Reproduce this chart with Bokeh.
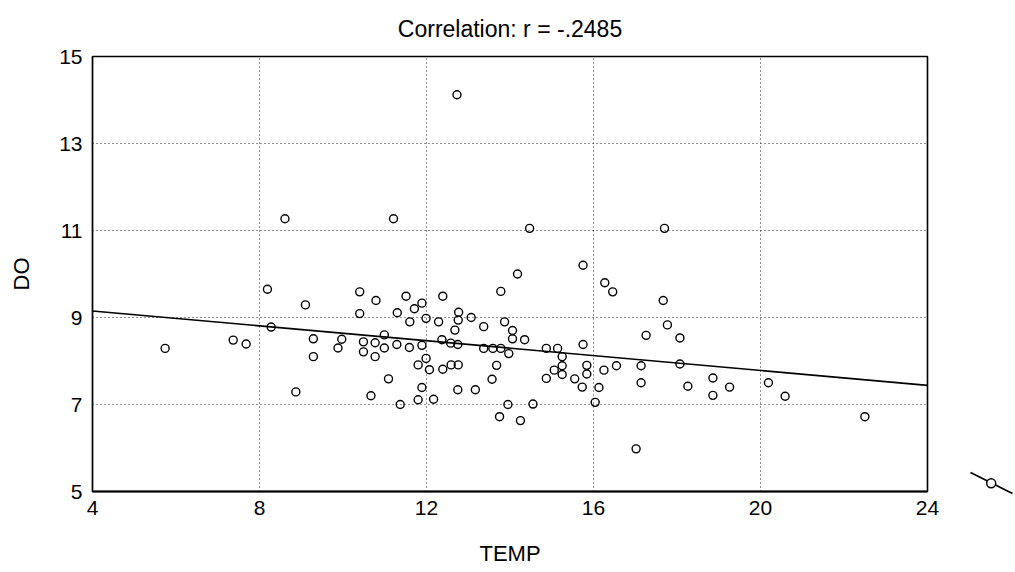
from bokeh.plotting import figure
from bokeh.layouts import row
from bokeh.models import FixedTicker, ColumnDataSource
from bokeh.embed import file_html
from bokeh.resources import INLINE

# ---- data ----
temp = [5.74, 7.37, 7.68, 8.19, 8.28, 8.87, 9.10, 9.29, 9.29, 9.88,
        9.97, 10.40, 10.40, 10.49, 10.49, 10.67, 10.77, 10.77, 10.79, 10.99,
        10.99, 11.09, 11.29, 11.30, 11.37, 11.51, 11.59, 11.60, 11.71, 11.80,
        11.80, 11.89, 11.89, 11.89, 11.99, 11.99, 12.07, 12.17, 12.29, 12.37,
        12.39, 12.39, 12.58, 12.59, 12.68, 12.73, 12.75, 12.76, 12.75, 12.76,
        12.77, 13.07, 13.17, 13.37, 13.37, 13.57, 13.59, 13.68, 13.75, 13.78,
        13.78, 13.87, 13.95, 13.97, 14.06, 14.06, 14.18, 14.25, 14.35, 14.47,
        14.55, 14.87, 14.87, 15.06, 15.14, 15.25, 15.25, 15.25, 15.55, 15.73,
        15.75, 15.75, 15.84, 15.84, 16.04, 16.13, 16.25, 16.27, 16.46, 16.55,
        17.02, 17.14, 17.14, 17.26, 17.67, 17.70, 17.77, 18.07, 18.07, 18.26,
        18.86, 18.86, 19.26, 20.19, 20.59, 22.50, 8.61, 11.21]
do = [8.29, 8.48, 8.39, 9.65, 8.78, 7.29, 9.29, 8.51, 8.10, 8.30,
      8.50, 9.59, 9.09, 8.44, 8.21, 7.20, 8.42, 8.10, 9.39, 8.60,
      8.30, 7.59, 8.38, 9.11, 7.00, 9.49, 8.31, 8.90, 9.20, 7.91,
      7.11, 9.33, 8.36, 7.39, 8.98, 8.06, 7.80, 7.12, 8.90, 8.49,
      9.49, 7.81, 8.41, 7.91, 8.71, 14.12, 8.38, 7.91, 7.34, 8.94,
      9.12, 9.00, 7.34, 8.79, 8.29, 7.58, 8.29, 7.90, 6.72, 9.60,
      8.29, 8.90, 7.00, 8.17, 8.70, 8.51, 10.00, 6.63, 8.49, 11.05,
      7.01, 8.29, 7.60, 7.79, 8.29, 8.10, 7.89, 7.69, 7.59, 7.40,
      10.20, 8.38, 7.90, 7.70, 7.05, 7.39, 7.79, 9.80, 9.59, 7.89,
      5.98, 7.89, 7.50, 8.59, 9.39, 11.05, 8.83, 8.53, 7.93, 7.42,
      7.61, 7.21, 7.40, 7.50, 7.19, 6.72, 11.27, 11.27]
fit_x = [4, 24]
fit_y = [9.15, 7.44]
x_ticks = [4, 8, 12, 16, 20, 24]
y_ticks = [5, 7, 9, 11, 13, 15]
title_text = "Correlation: r = -.2485"
x_title = "TEMP"
y_title = "DO"

FONT = "Liberation Sans"

src = ColumnDataSource(data=dict(temp=temp, do=do))
fit = ColumnDataSource(data=dict(x=fit_x, y=fit_y))

TOP, BOTTOM = 56, 81
p = figure(width=940, height=572, x_range=(4, 24), y_range=(5, 15),
           output_backend="svg", toolbar_location=None,
           min_border_left=92, min_border_right=13,
           min_border_top=TOP, min_border_bottom=BOTTOM,
           title=title_text, background_fill_color="white",
           border_fill_color="white")

p.title.align = "center"
p.title.vertical_align = "top"
p.title.text_font = FONT
p.title.text_font_size = "23px"
p.title.text_font_style = "normal"
p.title.text_color = "black"
p.title.text_line_height = 0.6
p.title.standoff = 25

for ax in (p.xaxis, p.yaxis):
    ax.major_label_text_font = FONT
    ax.major_label_text_color = "black"
    ax.major_label_text_font_size = "21px"
    ax.axis_label_text_font = FONT
    ax.axis_label_text_font_size = "22px"
    ax.axis_label_text_font_style = "normal"
    ax.axis_label_text_color = "black"
    ax.major_tick_out = 0
    ax.major_tick_in = 0
    ax.minor_tick_out = 0
    ax.minor_tick_in = 0

p.xaxis.ticker = FixedTicker(ticks=x_ticks)
p.yaxis.ticker = FixedTicker(ticks=y_ticks)
p.xaxis.axis_label = x_title
p.yaxis.axis_label = y_title
p.xaxis.major_label_standoff = 9
p.xaxis.axis_label_standoff = 23
p.yaxis.major_label_standoff = 10
p.yaxis.axis_label_standoff = 22
p.xaxis.axis_line_width = 2.2
p.xaxis.axis_line_color = "black"
p.yaxis.axis_line_width = 1.2
p.yaxis.axis_line_color = "black"

p.xgrid.ticker = FixedTicker(ticks=x_ticks)
p.ygrid.ticker = FixedTicker(ticks=y_ticks)
for g in (p.xgrid, p.ygrid):
    g.grid_line_color = "#222222"
    g.grid_line_dash = "1 3"
    g.grid_line_width = 1

p.outline_line_color = "black"
p.outline_line_width = 1.6
p.outline_line_alpha = 1

p.line("x", "y", source=fit, line_color="black", line_width=1.6)
p.scatter("temp", "do", source=src, marker="circle", size=8,
          fill_alpha=0, line_color="black", line_width=1.4)

# small legend-like symbol to the right of the plot; its frame is aligned with
# the main frame by the row layout, so page-y = TOP + local y
s = figure(frame_width=75, frame_height=572 - TOP, x_range=(0, 75),
           y_range=(572 - TOP, 0),
           output_backend="svg", toolbar_location=None, title=None,
           x_axis_location=None, y_axis_location=None,
           min_border=0, min_border_left=0, min_border_right=0,
           min_border_top=0, min_border_bottom=0,
           background_fill_color="white", border_fill_color="white")
s.grid.visible = False
s.outline_line_color = None
s.line([30, 72], [472 - TOP, 493 - TOP], line_color="black", line_width=1.6)
s.scatter([50.7], [482.7 - TOP], marker="circle", size=9, fill_color="white",
          line_color="black", line_width=1.5)

layout = row(p, s, spacing=0)
open("out.html", "w").write(file_html(layout, INLINE))
